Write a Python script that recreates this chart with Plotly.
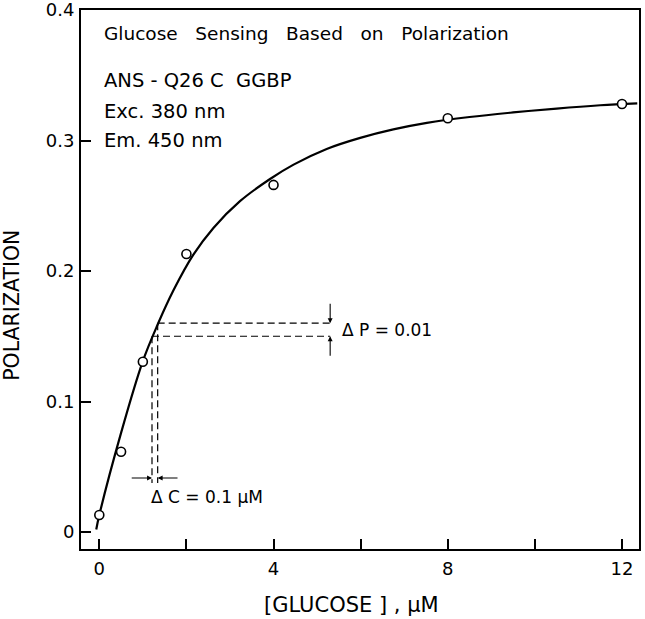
import plotly.graph_objects as go

# ---- data ----
glucose_uM = [0, 0.5, 1, 2, 4, 8, 12]
polarization = [0.013, 0.0615, 0.1305, 0.213, 0.266, 0.317, 0.328]

fit_x = [-0.07, 0.0, 0.5, 1.0, 1.34, 1.70, 2.16, 2.62, 3.23, 3.92, 4.46, 5.22,
         5.99, 6.75, 7.52, 8.5, 9.5, 10.5, 11.5, 12.35]
fit_y = [0.002, 0.013, 0.076, 0.131, 0.159, 0.185, 0.2125, 0.233, 0.2535, 0.2705,
         0.2815, 0.2935, 0.302, 0.3085, 0.3135, 0.318, 0.3215, 0.3245, 0.327, 0.3285]

dP_levels = [0.150, 0.160]        # polarization levels of the dashed guides
dC_levels = [1.21, 1.34]          # glucose levels of the dashed guides
dP_end_x = 5.30
dC_end_y = 0.0375
dC_arrow_y = 0.0414

x_tickvals = [0, 2, 4, 6, 8, 10, 12]
x_ticktext = ["0", "", "4", "", "8", "", "12"]
y_tickvals = [0, 0.1, 0.2, 0.3, 0.4]
y_ticktext = ["0", "0.1", "0.2", "0.3", "0.4"]

info_lines = ["Glucose   Sensing   Based   on   Polarization",
              "ANS - Q26 C  GGBP", "Exc. 380 nm", "Em. 450 nm"]
info_y = [0.382, 0.346, 0.322, 0.300]
info_size = [18.5, 19.5, 19.5, 19.5]

x_title = "[GLUCOSE ] , μM"
y_title = "POLARIZATION"

FONT = "DejaVu Sans"
fig = go.Figure()

# dashed guide lines
for xs, ys in zip(dC_levels, dP_levels):
    fig.add_trace(go.Scatter(x=[xs, dP_end_x], y=[ys, ys], mode="lines",
                             line=dict(color="black", width=1.2, dash="7px,4px"),
                             hoverinfo="skip", showlegend=False))
    fig.add_trace(go.Scatter(x=[xs, xs], y=[ys, dC_end_y], mode="lines",
                             line=dict(color="black", width=1.2, dash="7px,4px"),
                             hoverinfo="skip", showlegend=False))

# fitted curve
fig.add_trace(go.Scatter(x=fit_x, y=fit_y, mode="lines",
                         line=dict(color="black", width=2.2, shape="spline", smoothing=1.0),
                         showlegend=False))
# data points
fig.add_trace(go.Scatter(x=glucose_uM, y=polarization, mode="markers",
                         marker=dict(symbol="circle", size=9, color="white",
                                     line=dict(color="black", width=1.6)),
                         showlegend=False))

ann = []
for t, yy, fs in zip(info_lines, info_y, info_size):
    ann.append(dict(x=0.06, y=yy, xref="x", yref="y", text=t, showarrow=False,
                    xanchor="left", yanchor="middle",
                    font=dict(family=FONT, size=fs, color="black")))

arrow_style = dict(showarrow=True, arrowhead=2, arrowsize=0.9, arrowwidth=1.1,
                   arrowcolor="black", axref="x", ayref="y", xref="x", yref="y", text="")
# delta P arrows
ann.append(dict(x=dP_end_x, y=dP_levels[1], ax=dP_end_x, ay=0.176, **arrow_style))
ann.append(dict(x=dP_end_x, y=dP_levels[0], ax=dP_end_x, ay=0.134, **arrow_style))
# delta C arrows
ann.append(dict(x=dC_levels[0], y=dC_arrow_y, ax=0.71, ay=dC_arrow_y, **arrow_style))
ann.append(dict(x=dC_levels[1], y=dC_arrow_y, ax=1.83, ay=dC_arrow_y, **arrow_style))

ann.append(dict(x=5.52, y=0.155, xref="x", yref="y", text="Δ P = 0.01", showarrow=False,
                xanchor="left", yanchor="middle", font=dict(family=FONT, size=17, color="black")))
ann.append(dict(x=1.13, y=0.027, xref="x", yref="y", text="Δ C = 0.1 μM", showarrow=False,
                xanchor="left", yanchor="middle", font=dict(family=FONT, size=17, color="black")))

# axis titles
ann.append(dict(x=0.484, y=-0.104, xref="paper", yref="paper", text=x_title, showarrow=False,
                xanchor="center", yanchor="middle", font=dict(family=FONT, size=21, color="black")))
ann.append(dict(x=-0.124, y=0.4527, xref="paper", yref="paper", text=y_title, showarrow=False,
                textangle=-90, xanchor="center", yanchor="middle",
                font=dict(family=FONT, size=20.5, color="black")))

fig.update_layout(
    width=645, height=619,
    margin=dict(l=81, r=6, t=10, b=70, autoexpand=False),
    paper_bgcolor="white", plot_bgcolor="white",
    font=dict(family=FONT, color="black", size=16),
    annotations=ann,
    showlegend=False,
)
fig.update_xaxes(range=[-0.42, 12.39], tickvals=x_tickvals, ticktext=x_ticktext,
                 ticks="inside", ticklen=10, tickwidth=1.5, tickcolor="black",
                 showline=True, linecolor="black", linewidth=2, mirror=True,
                 showgrid=False, zeroline=False, ticklabelstandoff=2,
                 ticklabeloverflow="allow",
                 tickfont=dict(size=18), automargin=False)
fig.update_yaxes(range=[-0.013, 0.4], tickvals=y_tickvals, ticktext=y_ticktext,
                 ticks="inside", ticklen=10, tickwidth=1.5, tickcolor="black",
                 showline=True, linecolor="black", linewidth=2, mirror=True,
                 showgrid=False, zeroline=False, ticklabelstandoff=1,
                 ticklabeloverflow="allow",
                 tickfont=dict(size=18), automargin=False)

fig.write_html("out.html", config={"displayModeBar": False},
               post_script="document.body.style.margin='0px';")
